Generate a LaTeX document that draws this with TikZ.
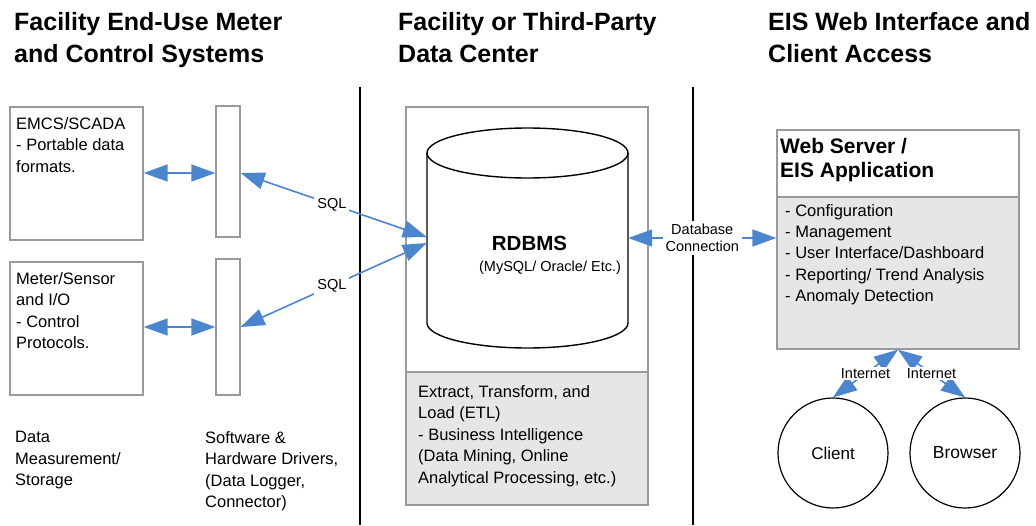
\documentclass[tikz,border=0pt]{standalone}
\usepackage{fontspec}
\setmainfont{Liberation Sans}
\usetikzlibrary{arrows.meta}
\definecolor{arrblue}{HTML}{4A86CF}
\definecolor{boxgray}{HTML}{9A9A9A}
\definecolor{fillgray}{HTML}{E6E6E6}
\begin{document}
\begin{tikzpicture}[x=1pt,y=-1pt,
  box/.style={draw=boxgray, line width=1.3pt, inner sep=0pt},
  arr/.style={draw=arrblue, line width=1.6pt, {Triangle[length=24pt,width=17pt]}-{Triangle[length=24pt,width=17pt]}},
  txt/.style={anchor=north west, align=left, inner sep=0pt, font=\fontsize{16.5}{21.5}\selectfont},
  head/.style={anchor=north west, align=left, inner sep=0pt, font=\fontsize{25}{32}\selectfont\bfseries},
  lbl/.style={fill=white, inner sep=3pt, align=center, font=\fontsize{14.5}{16.5}\selectfont},
  divider/.style={line width=2pt, black},
  cyl/.style={line width=1.4pt, black}]
\useasboundingbox (0,0) rectangle (1036,525);

% headings
\node[head] (h1) at (14,12) {Facility End-Use Meter\\and Control Systems};
\node[head] (h2) at (398,12) {Facility or Third-Party\\Data Center};
\node[head] (h3) at (768,12) {EIS Web Interface and\\Client Access};

% dividers
\coordinate (d1t) at (360,87); \coordinate (d1b) at (360,525);
\coordinate (d2t) at (693,87); \coordinate (d2b) at (693,525);
\draw[divider] (d1t) -- (d1b);
\draw[divider] (d2t) -- (d2b);

% left column
\node[box, minimum width=133pt, minimum height=133pt] (emcs) at (76.5,173.5) {};
\node[txt] (emcst) at (16,117) {EMCS/SCADA\\- Portable data\\formats.};
\node[box, minimum width=133pt, minimum height=133pt] (meter) at (76.5,328.5) {};
\node[txt] (metert) at (16,272) {Meter/Sensor\\and I/O\\- Control\\Protocols.};
\node[box, minimum width=24pt, minimum height=131pt] (drv1) at (228,171.5) {};
\node[box, minimum width=24pt, minimum height=136pt] (drv2) at (228,327) {};
\draw[arr] (emcs.east |- 0,173) -- (drv1.west |- 0,173);
\draw[arr] (meter.east |- 0,327) -- (drv2.west |- 0,327);
\node[txt] (datal) at (15,431) {Data\\Measurement/\\Storage};
\node[txt] (swl) at (205,431) {Software \&\\Hardware Drivers,\\(Data Logger,\\Connector)};

% middle column
\fill[fillgray] (406,372) rectangle (648,505);
\node[box, minimum width=242pt, minimum height=398pt] (dc) at (527,306) {};
\draw[draw=boxgray, line width=1.3pt] (406,372) -- (648,372);
\node[txt] (etl) at (418,385) {Extract, Transform, and\\Load (ETL)\\- Business Intelligence\\(Data Mining, Online\\Analytical Processing, etc.)};
\draw[cyl, fill=white] (427,153) -- (427,323) arc[start angle=180, end angle=360, x radius=100.5pt, y radius=25pt] -- (628,153);
\draw[cyl] (527.5,153) ellipse [x radius=100.5pt, y radius=25pt];
\node[inner sep=0pt, minimum width=201pt, minimum height=220pt] (db) at (527.5,238) {};
\node[inner sep=0pt, font=\fontsize{20.5}{24}\selectfont\bfseries] (rdbms) at (529.5,243) {RDBMS};
\node[inner sep=0pt, font=\fontsize{14.5}{16}\selectfont] (rdbmss) at (550,268) {(MySQL/ Oracle/ Etc.)};

% SQL connectors
\draw[arr] (drv1.east |- 0,173) -- node[lbl, pos=0.49] {SQL} ([yshift=1pt]db.west);
\draw[arr] (drv2.east) -- node[lbl, pos=0.49] {SQL} ([yshift=-5pt]db.west);

% right column
\fill[fillgray] (777,197) rectangle (1019,349);
\node[box, minimum width=242pt, minimum height=219pt] (web) at (898,239.5) {};
\draw[draw=boxgray, line width=1.3pt] (777,197) -- (1019,197);
\node[anchor=north west, align=left, inner sep=0pt, font=\fontsize{21}{24.5}\selectfont\bfseries] (webt) at (780,138) {Web Server /\\EIS Application};
\node[txt, font=\fontsize{16.5}{21.3}\selectfont] (webi) at (785,204) {- Configuration\\- Management\\- User Interface/Dashboard\\- Reporting/ Trend Analysis\\- Anomaly Detection};

\draw[arr] (db.east) -- node[lbl] {Database\\Connection} (db.east -| web.west);

\node[draw, circle, line width=1.2pt, minimum size=110pt, inner sep=0pt, font=\fontsize{17}{20}\selectfont] (client) at (833,453) {Client};
\node[draw, circle, line width=1.2pt, minimum size=110pt, inner sep=0pt, font=\fontsize{17.5}{20}\selectfont] (browser) at (965,453) {Browser};
\draw[arr] (client.north) -- node[lbl, inner sep=1.5pt] {Internet} (web.south);
\draw[arr] (browser.north) -- node[lbl, inner sep=1.5pt] {Internet} (web.south);
\end{tikzpicture}
\end{document}
